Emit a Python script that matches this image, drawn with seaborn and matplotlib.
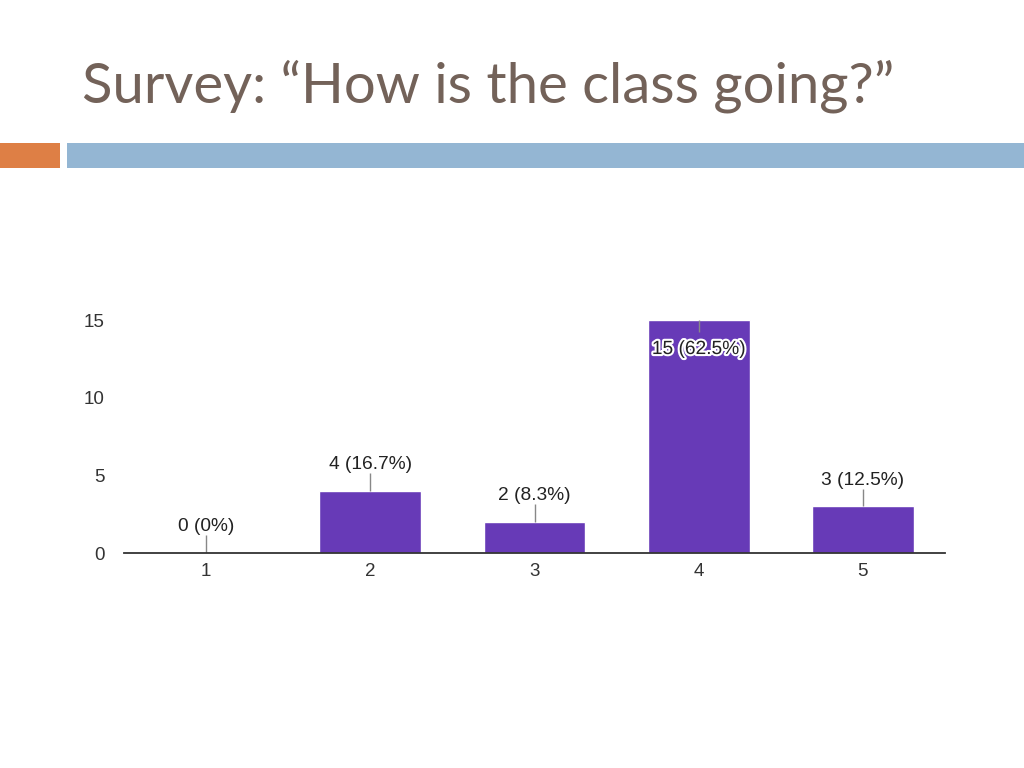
import numpy as np
import seaborn as sns
import pandas as pd
import matplotlib.pyplot as plt
import matplotlib.patheffects as pe
from matplotlib.patches import Rectangle

sns.set_style("white")
plt.rcParams['font.family'] = ['Liberation Sans', 'DejaVu Sans']

# data
categories = ["1", "2", "3", "4", "5"]
counts = [0, 4, 2, 15, 3]
labels = ["0 (0%)", "4 (16.7%)", "2 (8.3%)", "15 (62.5%)", "3 (12.5%)"]
yticks = [0, 5, 10, 15]

df = pd.DataFrame({"rating": categories, "count": counts})

fig = plt.figure(figsize=(10.24, 7.68), dpi=100)

# slide header decoration
fig.patches.append(Rectangle((0, 0.7813), 0.0586, 0.0326, transform=fig.transFigure,
                             facecolor='#de7f45', edgecolor='none'))
fig.patches.append(Rectangle((0.0654, 0.7813), 0.9346, 0.0326, transform=fig.transFigure,
                             facecolor='#94b6d3', edgecolor='none'))
fig.text(0.080, 0.866, "Survey: \u201cHow is the class going?\u201d", fontsize=40.5,
         color='#736259', va='baseline', ha='left', family=['Lato', 'DejaVu Sans'])

ax = fig.add_axes([0.1211, 0.2799, 0.8018, 0.3034])
sns.barplot(data=df, x="rating", y="count", color='#673ab7', width=0.62,
            saturation=1, ax=ax)

ax.set_xlim(-0.5, 4.5)
ax.set_ylim(0, 15)
ax.set_yticks(yticks)
ax.set_xlabel("")
ax.set_ylabel("")
ax.tick_params(axis='both', length=0, labelsize=13.5, colors='#333333')
ax.tick_params(axis='y', pad=14)
ax.tick_params(axis='x', pad=7)
for s in ['top', 'right', 'left']:
    ax.spines[s].set_visible(False)
ax.spines['bottom'].set_color('#333333')
ax.spines['bottom'].set_linewidth(1.3)

# value labels with leader lines
for i, (v, lab) in enumerate(zip(counts, labels)):
    if v >= 14:
        ax.vlines(i, v - 0.8, v, color='#888888', lw=1)
        ax.text(i, v - 1.9, lab, ha='center', va='center', fontsize=13.8, color='#222222',
                path_effects=[pe.withStroke(linewidth=3, foreground='white')])
    else:
        ax.vlines(i, v, v + 1.15, color='#888888', lw=1)
        ax.text(i, v + 1.15, lab, ha='center', va='bottom', fontsize=13.8, color='#222222')

fig.savefig('out.png', dpi=100)
